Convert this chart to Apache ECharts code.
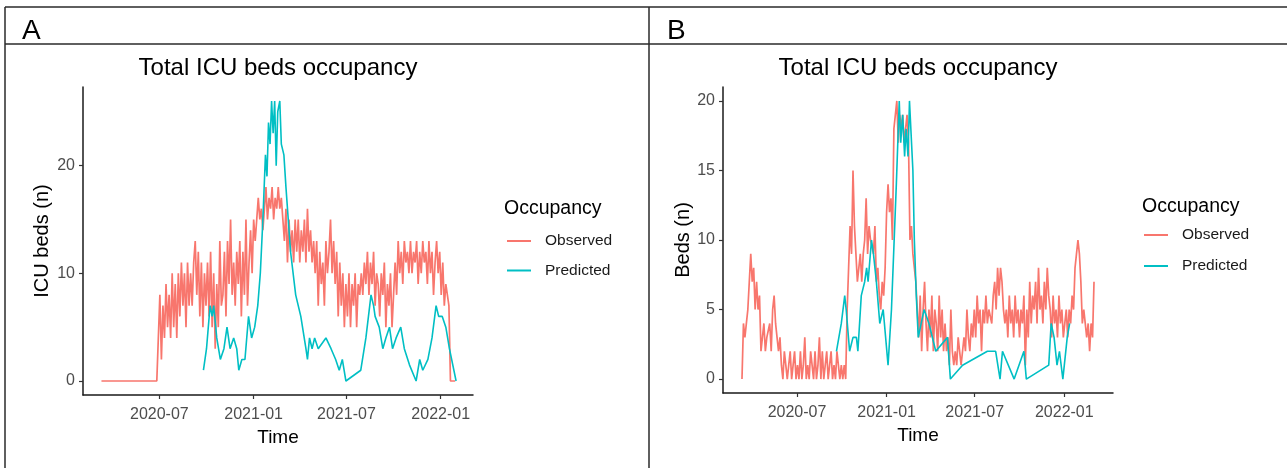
<!DOCTYPE html>
<html>
<head>
<meta charset="utf-8">
<title>Total ICU beds occupancy</title>
<script src="https://cdn.jsdelivr.net/npm/echarts@6/dist/echarts.min.js"></script>
<style>
    html, body { margin: 0; padding: 0; background: #ffffff; }
    #main { width: 1287px; height: 468px; }
</style>
</head>
<body>
<div id="main"></div>
<script>
// ------------------------------
// Data
// ------------------------------
// observed occupancy: one value every 3 days from 2020-03-10
var obsStart = '2020-03-10';
var obsStepDays = 3;

var observedA = [
    0, 0, 0, 0, 0, 0, 0, 0, 0, 0, 0, 0, 0, 0, 0, 0, 0, 0, 0,
    0, 0, 0, 0, 0, 0, 0, 0, 0, 0, 0, 0, 0, 0, 0, 0, 0, 0, 0,
    8, 2, 7, 4, 9, 5, 8, 4, 10, 5, 9,
    4, 10, 6, 11, 7, 10, 5, 11, 7, 10,
    7, 11, 13, 8, 12, 6, 11, 5, 10, 7,
    11, 6, 12, 5, 10, 3, 9, 5, 13, 7,
    8, 12, 6, 13, 9, 15, 8, 11, 7, 12,
    9, 13, 6, 12, 8, 15, 7, 11, 14, 10, 15,
    13, 15, 17, 15, 16, 14, 16, 18, 15, 17,
    16, 18, 15, 17, 16, 18, 16, 17, 15,
    13, 16, 11, 15, 12, 14, 11, 15, 12, 15,
    11, 14, 12, 15, 11, 16, 12, 14, 11, 13,
    10, 13, 7, 12, 9, 11, 7, 13, 10, 12,
    15, 10, 13, 9, 12, 6, 11, 7, 10, 5, 9,
    6, 10, 5, 9, 7, 10, 5, 9, 8, 10,
    8, 11, 9, 12, 8, 11, 9, 12, 7, 10, 9,
    6, 10, 8, 11, 5, 9, 7, 10, 5, 8,
    11, 8, 13, 10, 12, 9, 13, 11, 12, 10,
    13, 10, 12, 11, 13, 9, 12, 10, 13, 11,
    12, 9, 13, 10, 12, 8, 11, 13, 10, 12,
    8, 11, 7, 9, 8, 7, 0, 0, 0, 0
];

var predictedA = [
    ['2020-09-25', 1], ['2020-10-01', 3], ['2020-10-08', 7], ['2020-10-12', 6],
    ['2020-10-15', 7], ['2020-10-21', 4], ['2020-10-28', 2], ['2020-11-04', 3],
    ['2020-11-10', 5], ['2020-11-16', 3], ['2020-11-23', 4], ['2020-11-29', 3],
    ['2020-12-03', 1], ['2020-12-09', 2], ['2020-12-15', 2], ['2020-12-22', 6],
    ['2020-12-28', 4], ['2021-01-03', 5], ['2021-01-09', 7], ['2021-01-14', 10],
    ['2021-01-19', 15], ['2021-01-24', 21], ['2021-01-27', 19], ['2021-01-30', 24],
    ['2021-02-02', 22], ['2021-02-05', 26], ['2021-02-08', 23], ['2021-02-11', 26],
    ['2021-02-14', 20], ['2021-02-17', 25], ['2021-02-21', 26], ['2021-02-24', 22],
    ['2021-03-01', 21], ['2021-03-05', 18], ['2021-03-14', 12], ['2021-03-24', 8],
    ['2021-04-03', 6], ['2021-04-13', 3], ['2021-04-16', 2], ['2021-04-20', 4],
    ['2021-04-25', 3], ['2021-04-30', 4], ['2021-05-07', 3], ['2021-05-22', 4],
    ['2021-06-01', 3], ['2021-06-10', 2], ['2021-06-17', 1], ['2021-06-23', 2],
    ['2021-06-30', 0], ['2021-07-29', 1], ['2021-08-08', 4], ['2021-08-18', 8],
    ['2021-08-23', 7], ['2021-08-26', 6], ['2021-09-03', 5], ['2021-09-10', 3],
    ['2021-09-16', 4], ['2021-09-23', 5], ['2021-09-29', 3], ['2021-10-06', 4],
    ['2021-10-15', 5], ['2021-10-22', 3], ['2021-11-01', 1.5], ['2021-11-14', 0],
    ['2021-11-21', 2], ['2021-11-27', 1], ['2021-12-07', 2], ['2021-12-15', 4],
    ['2021-12-23', 7], ['2021-12-28', 6], ['2022-01-04', 6], ['2022-01-11', 5],
    ['2022-01-18', 3], ['2022-01-31', 0]
];

var observedB = [
    0, 4, 3, 4, 5, 7, 9, 7,
    8, 5, 7, 5, 6, 2, 3, 4, 2, 3,
    3, 4, 2, 5, 6, 4, 3, 2, 3, 1,
    0, 2, 1, 0, 1, 2, 0, 1, 2, 0,
    1, 0, 2, 0, 1, 3, 0, 1, 0, 2, 1,
    0, 2, 0, 1, 3, 0, 2, 0, 1, 2,
    0, 1, 2, 0, 1, 0, 2, 1, 0, 1,
    0, 1, 0, 5, 8, 11, 9, 15, 11, 9,
    7, 8, 9, 7, 9, 10, 13, 9, 11, 10,
    10, 9, 11, 7, 8, 6, 5, 7, 6, 8, 12,
    14, 12, 13, 10, 18, 19, 20, 17, 19, 18,
    19, 17, 18, 19, 17, 10, 11, 9, 8,
    7, 5, 3, 6, 2, 5, 7, 4, 2, 5,
    3, 6, 2, 5, 4, 2, 6, 3, 5, 2,
    4, 2, 3, 1, 5, 2, 1, 2, 1, 3,
    2, 1, 2, 3, 2, 5, 3, 2, 4, 3, 5,
    3, 6, 4, 5, 2, 5, 4, 6, 4, 5,
    5, 4, 6, 7, 5, 8, 6, 8, 7, 5, 4,
    5, 3, 6, 4, 5, 3, 6, 4, 5, 3,
    5, 4, 6, 1, 5, 3, 7, 4, 6, 5,
    7, 4, 8, 5, 6, 4, 7, 5, 8, 6,
    5, 3, 6, 4, 5, 3, 6, 4, 5, 3,
    4, 5, 3, 5, 4, 6, 5, 8, 9, 10, 9,
    7, 4, 5, 4, 3, 4, 2, 4, 3,
    7
];

var predictedB = [
    ['2020-09-20', 2], ['2020-09-30', 4], ['2020-10-07', 6], ['2020-10-10', 5],
    ['2020-10-17', 2], ['2020-10-24', 3], ['2020-10-31', 3], ['2020-11-03', 2],
    ['2020-11-10', 6], ['2020-11-17', 7], ['2020-11-21', 8], ['2020-11-24', 7],
    ['2020-12-01', 10], ['2020-12-05', 9], ['2020-12-11', 7], ['2020-12-18', 4],
    ['2020-12-25', 5], ['2021-01-04', 1], ['2021-01-11', 5], ['2021-01-21', 14],
    ['2021-01-27', 20], ['2021-01-30', 17], ['2021-02-03', 19], ['2021-02-07', 16],
    ['2021-02-10', 18], ['2021-02-14', 16], ['2021-02-17', 20], ['2021-02-24', 15],
    ['2021-02-27', 10], ['2021-03-03', 6], ['2021-03-07', 3], ['2021-03-19', 5],
    ['2021-03-29', 4], ['2021-04-12', 2], ['2021-05-06', 3], ['2021-05-12', 0],
    ['2021-06-06', 1], ['2021-07-27', 2], ['2021-08-13', 2], ['2021-08-22', 0],
    ['2021-08-27', 2], ['2021-09-20', 0], ['2021-10-10', 2], ['2021-10-15', 0],
    ['2021-11-30', 1], ['2021-12-05', 4], ['2021-12-11', 3], ['2021-12-17', 1],
    ['2021-12-22', 2], ['2021-12-29', 0], ['2022-01-07', 3], ['2022-01-12', 4]
];

var xTickLabels = ['2020-07', '2021-01', '2021-07', '2022-01'];
var yTicksA = [0, 10, 20];
var yTicksB = [0, 5, 10, 15, 20];

// ------------------------------
// Helpers
// ------------------------------
var FONT = 'Liberation Sans, Arial, sans-serif';
var DAY = 86400000;

// 'YYYY-MM-DD' or 'YYYY-MM' -> UTC timestamp
function ts(s) {
    var p = s.split('-');
    return Date.UTC(+p[0], +p[1] - 1, p[2] ? +p[2] : 1);
}

function pad2(n) {
    return n < 10 ? '0' + n : '' + n;
}

function observedSeries(values) {
    var t0 = ts(obsStart);
    return values.map(function (v, i) {
        return [t0 + i * obsStepDays * DAY, v];
    });
}

function datedSeries(pairs) {
    return pairs.map(function (p) {
        return [ts(p[0]), p[1]];
    });
}

var xTickValues = xTickLabels.map(ts);

function xAxisFor(gridIndex, min, max) {
    return {
        type: 'value',
        gridIndex: gridIndex,
        min: ts(min),
        max: ts(max),
        name: 'Time',
        nameLocation: 'middle',
        nameGap: 30,
        nameTextStyle: { fontFamily: FONT, fontSize: 19, color: '#000' },
        axisLine: { onZero: false, lineStyle: { color: '#1a1a1a', width: 1.5 } },
        axisTick: { show: true, length: 4, customValues: xTickValues, lineStyle: { color: '#333', width: 1.2 } },
        axisLabel: {
            customValues: xTickValues,
            margin: 12,
            fontFamily: FONT,
            fontSize: 16,
            color: '#4d4d4d',
            formatter: function (v) {
                var d = new Date(v);
                return d.getUTCFullYear() + '-' + pad2(d.getUTCMonth() + 1);
            }
        },
        splitLine: { show: false }
    };
}

function yAxisFor(gridIndex, min, max, ticks, name, gap) {
    return {
        type: 'value',
        gridIndex: gridIndex,
        min: min,
        max: max,
        name: name,
        nameLocation: 'middle',
        nameGap: gap,
        nameTextStyle: { fontFamily: FONT, fontSize: 20, color: '#000' },
        axisLine: { show: true, onZero: false, lineStyle: { color: '#1a1a1a', width: 1.5 } },
        axisTick: { show: true, length: 4, customValues: ticks, lineStyle: { color: '#333', width: 1.2 } },
        axisLabel: { customValues: ticks, margin: 8, fontFamily: FONT, fontSize: 16, color: '#4d4d4d' },
        splitLine: { show: false }
    };
}

function lineSeries(name, color, xi, data, width) {
    return {
        name: name,
        type: 'line',
        xAxisIndex: xi,
        yAxisIndex: xi,
        data: data,
        symbol: 'none',
        color: color,
        lineStyle: { width: width, color: color },
        emphasis: { disabled: true }
    };
}

function legendFor(left, top, gap) {
    return {
        data: ['Observed', 'Predicted'],
        orient: 'vertical',
        left: left,
        top: top,
        padding: 0,
        icon: 'rect',
        itemWidth: 24,
        itemHeight: 2,
        itemGap: gap,
        selectedMode: false,
        textStyle: { fontFamily: FONT, fontSize: 15.5, lineHeight: 16, color: '#1a1a1a', padding: [0, 0, 0, 9] }
    };
}

function label(text, left, top, size, align) {
    return {
        text: text,
        left: left,
        top: top,
        padding: 0,
        textAlign: align || 'left',
        textStyle: { fontFamily: FONT, fontSize: size, fontWeight: 'normal', color: '#000' }
    };
}

// ------------------------------
// Chart
// ------------------------------
var myChart = echarts.init(document.getElementById('main'));

var borderStyle = { stroke: '#2a2a2a', lineWidth: 1.5 };

var option = {
    animation: false,
    backgroundColor: '#ffffff',
    title: [
        label('A', 22, 17, 28),
        label('B', 667, 17, 28),
        label('Total ICU beds occupancy', 278, 56, 24, 'center'),
        label('Total ICU beds occupancy', 918, 56, 24, 'center'),
        label('Occupancy', 504, 199, 19.5),
        label('Occupancy', 1142, 197, 19.5)
    ],
    legend: [
        legendFor(507, 233, 13.5),
        legendFor(1144, 227, 15)
    ],
    grid: [
        { left: 83, top: 87, width: 390, height: 308 },
        { left: 723, top: 87, width: 390, height: 306 }
    ],
    xAxis: [
        xAxisFor(0, '2020-02-03', '2022-03-05'),
        xAxisFor(1, '2020-01-31', '2022-04-11')
    ],
    yAxis: [
        yAxisFor(0, -1.3, 27.3, yTicksA, 'ICU beds (n)', 31),
        yAxisFor(1, -1, 21, yTicksB, 'Beds (n)', 30)
    ],
    series: [
        lineSeries('Observed', '#F8766D', 0, observedSeries(observedA), 1.7),
        lineSeries('Predicted', '#00BFC4', 0, datedSeries(predictedA), 1.6),
        lineSeries('Observed', '#F8766D', 1, observedSeries(observedB), 1.7),
        lineSeries('Predicted', '#00BFC4', 1, datedSeries(predictedB), 1.6)
    ],
    graphic: [
        { type: 'line', shape: { x1: 5, y1: 7, x2: 1287, y2: 7 }, style: borderStyle },
        { type: 'line', shape: { x1: 5, y1: 44, x2: 1287, y2: 44 }, style: borderStyle },
        { type: 'line', shape: { x1: 5, y1: 7, x2: 5, y2: 468 }, style: borderStyle },
        { type: 'line', shape: { x1: 649, y1: 7, x2: 649, y2: 468 }, style: borderStyle }
    ]
};

myChart.setOption(option);
</script>
</body>
</html>
